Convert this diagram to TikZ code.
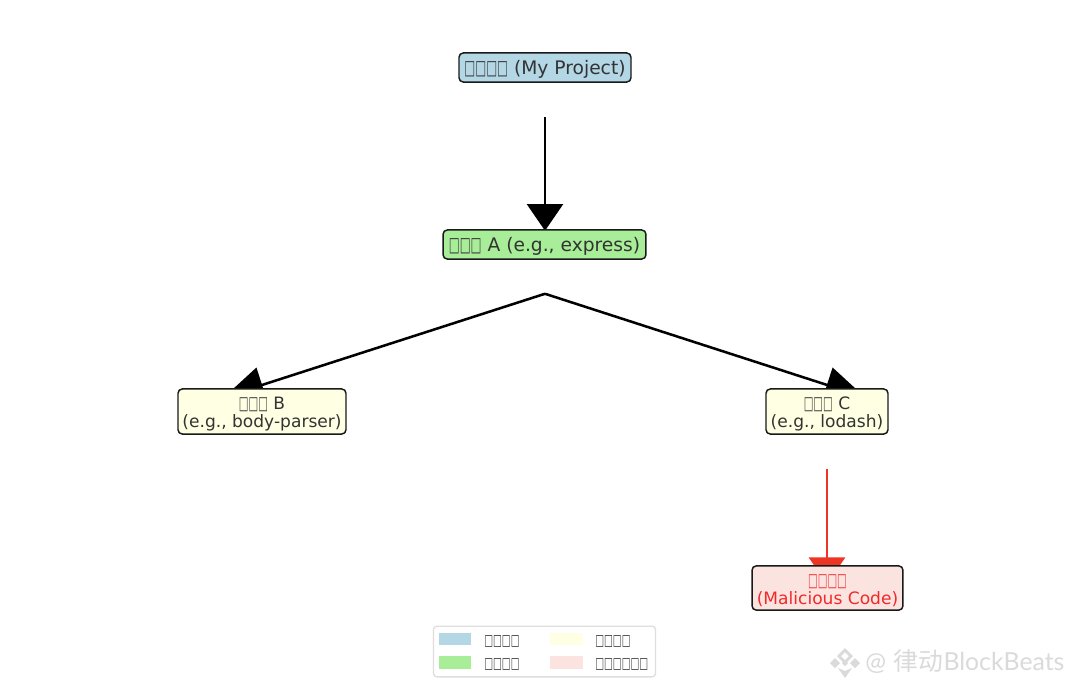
\documentclass[tikz,border=0pt]{standalone}
\usepackage{fontspec}
\setmainfont{DejaVu Sans}
\newfontfamily\cjkwm{Noto Sans CJK SC}
\newfontfamily\latowm{Lato}
\usetikzlibrary{arrows.meta,calc,backgrounds}
\definecolor{txt}{HTML}{333333}
\definecolor{redline}{HTML}{EE3524}
\definecolor{redtxt}{HTML}{F02A2A}
\definecolor{cblue}{HTML}{B3D7E5}
\definecolor{cgreen}{HTML}{A8EE98}
\definecolor{cyellow}{HTML}{FFFFE3}
\definecolor{cred}{HTML}{FBE3E0}
\definecolor{wm}{HTML}{DADADA}
\newcommand{\tofu}[1][0.6]{{\color{.!92!white}\scalebox{#1}[1.08]{□}}}
\newcommand{\topstrut}{\rule{0pt}{13pt}}
\tikzset{
 x=0.75pt,y=-0.75pt,
 box/.style={draw=black!90,line width=1.1pt,rounded corners=3.2pt,align=center,inner sep=0pt,text=txt,
   font=\fontsize{12.8}{13.8}\selectfont},
 oneline/.style={font=\fontsize{14}{15}\selectfont},
 conn/.style={line width=1.9pt,draw=black,-{Triangle[length=20pt,width=27pt,fill=black]}},
 connslant/.style={line width=1.9pt,draw=black,-{Triangle[length=30pt,width=27pt,fill=black]}},
 connred/.style={line width=2pt,draw=redline,-{Triangle[length=20pt,width=27pt,fill=redline]}},
 legframe/.style={draw=black!13,line width=1pt,rounded corners=2.5pt,fill=white},
 swatch/.style={inner sep=0pt,minimum width=24.4pt,minimum height=9.6pt},
 legtxt/.style={anchor=west,inner sep=0pt,text=txt,font=\fontsize{10.7}{11}\selectfont},
 wmd/.style={fill=wm,draw=none},
}
\begin{document}
\begin{tikzpicture}
\useasboundingbox (0,0) rectangle (1072,690);
% nodes
\node[box,oneline,fill=cblue,minimum width=129pt,minimum height=21.8pt] (proj) at (545,67.5) {\topstrut\tofu[0.62]\tofu[0.62]\tofu[0.62]\tofu[0.62]{} (My Project)};
\node[box,oneline,fill=cgreen,minimum width=152.2pt,minimum height=21.8pt] (depa) at (544.5,244.5) {\topstrut\tofu[0.62]\tofu[0.62]\tofu[0.62]{} A (e.g., express)};
\node[box,fill=cyellow,minimum width=126pt,minimum height=33.8pt] (depb) at (262,411.5) {\topstrut\tofu\tofu\tofu{} B\\(e.g., body-parser)};
\node[box,fill=cyellow,minimum width=91.5pt,minimum height=33.8pt] (depc) at (827,411.5) {\topstrut\tofu\tofu\tofu{} C\\(e.g., lodash)};
\node[box,fill=cred,text=redtxt,minimum width=113.2pt,minimum height=33.2pt] (mal) at (827.5,588) {\topstrut\tofu\tofu\tofu\tofu\\(Malicious Code)};
% connectors behind the boxes
\begin{scope}[on background layer]
\fill[white] (0,0) rectangle (1072,690);
\draw[conn] ($(proj.south)+(0,34.5)$) -- ($(depa.north)+(0.5,1.5)$);
\draw[connslant] ($(depa.south)+(0.5,34)$) -- ($(depb.north)+(-38,9)$);
\draw[connslant] ($(depa.south)+(0.5,34)$) -- ($(depc.north)+(38,9)$);
\draw[connred] ($(depc.south)+(0,34.5)$) -- ($(mal.north)+(-0.5,19)$);
\end{scope}
% legend
\node[legframe,minimum width=166.5pt,minimum height=38pt,inner sep=0pt] (legend) at (544.5,651.5) {};
\node[swatch,fill=cblue] (s1) at (455,639) {};
\node[swatch,fill=cgreen] (s2) at (455,662.5) {};
\node[swatch,fill=cyellow] (s3) at (566.5,639) {};
\node[swatch,fill=cred] (s4) at (566.5,662.5) {};
\node[legtxt] (l1) at (484,641) {\tofu[0.655]\tofu[0.655]\tofu[0.655]\tofu[0.655]};
\node[legtxt] (l2) at (484,664) {\tofu[0.655]\tofu[0.655]\tofu[0.655]\tofu[0.655]};
\node[legtxt] (l3) at (595,641) {\tofu[0.655]\tofu[0.655]\tofu[0.655]\tofu[0.655]};
\node[legtxt] (l4) at (595,664) {\tofu[0.655]\tofu[0.655]\tofu[0.655]\tofu[0.655]\tofu[0.655]\tofu[0.655]};
% watermark
\fill[wmd,even odd rule] (845,648) -- (853,656) -- (845,664) -- (837,656) -- cycle (845,652) -- (849,656) -- (845,660) -- (841,656) -- cycle;
\fill[wmd] (835,658) -- (840,663) -- (835,668) -- (830,663) -- cycle;
\fill[wmd] (855,658) -- (860,663) -- (855,668) -- (850,663) -- cycle;
\fill[wmd] (845,660) -- (848,663) -- (845,666) -- (842,663) -- cycle;
\fill[wmd] (838,668) -- (845,671) -- (852,668) -- (845,678) -- cycle;
\node[anchor=west,inner sep=0pt,text=wm,font=\fontsize{18.6}{20}\selectfont] (wmark) at (865,662)
 {{\latowm @} {\cjkwm 律动}{\latowm BlockBeats}};
\end{tikzpicture}
\end{document}
